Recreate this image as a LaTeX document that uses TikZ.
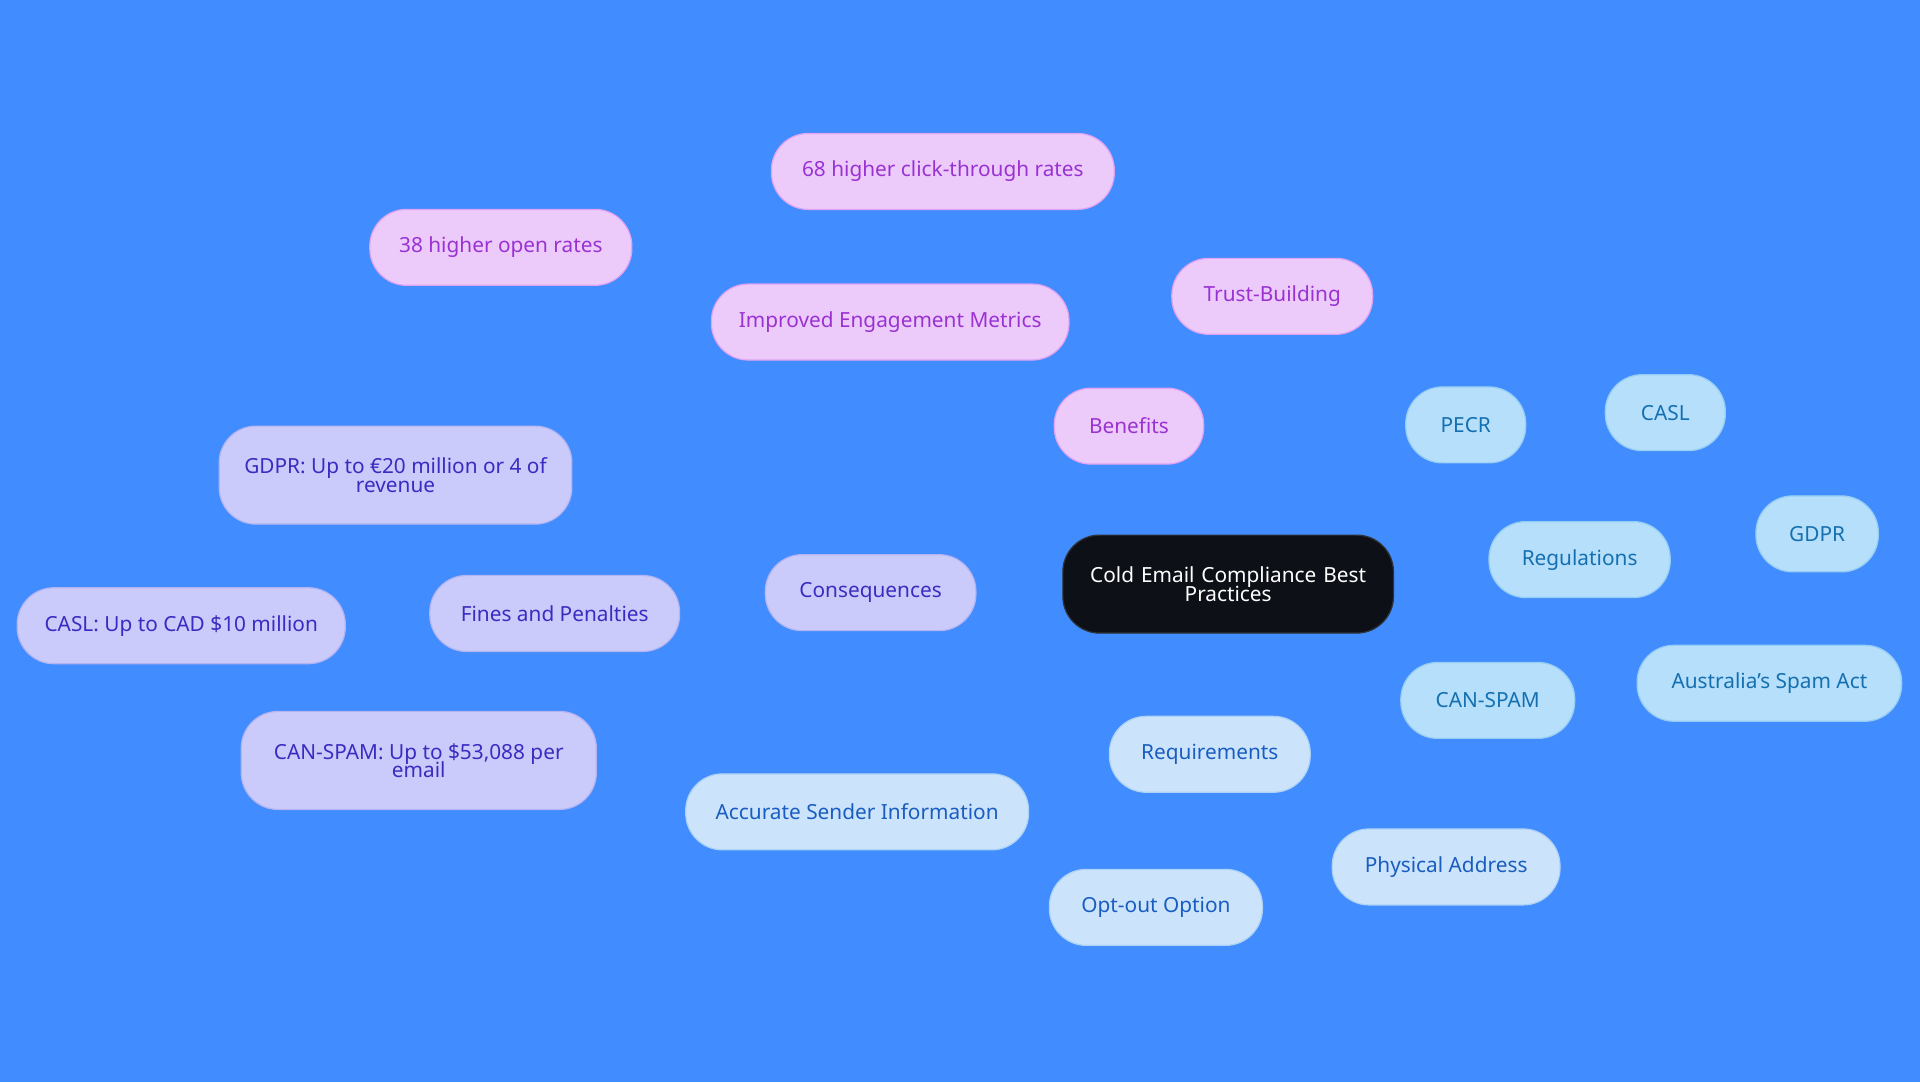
\documentclass[tikz,border=0pt]{standalone}
\usepackage{fontspec}
\setmainfont{Noto Sans}
\usetikzlibrary{backgrounds}
\definecolor{bg}{HTML}{418DFF}
\definecolor{cen}{HTML}{0D1117}
\definecolor{pf}{HTML}{ECCBFB}\definecolor{ps}{HTML}{DFA3F2}\definecolor{pt}{HTML}{9A32D2}
\definecolor{lf}{HTML}{CBCBFB}\definecolor{ls}{HTML}{B4B4F2}\definecolor{lt}{HTML}{3A2CC0}
\definecolor{rf}{HTML}{B5DFFB}\definecolor{rs}{HTML}{96CDF2}\definecolor{rt}{HTML}{1670B0}
\definecolor{qf}{HTML}{CCE4FB}\definecolor{qs}{HTML}{ADD2F5}\definecolor{qt}{HTML}{1A5DC0}
\tikzset{
 base/.style={rounded corners=30pt,minimum height=62pt,align=center,font=\fontsize{17}{18}\selectfont,line width=1pt,inner sep=4pt},
 pn/.style={base,fill=pf,draw=ps,text=pt},
 ln/.style={base,fill=lf,draw=ls,text=lt},
 rn/.style={base,fill=rf,draw=rs,text=rt},
 qn/.style={base,fill=qf,draw=qs,text=qt},
 pe/.style={draw=ps,line width=2pt},
 le/.style={draw=ls,line width=2pt},
 re/.style={draw=rs,line width=2pt},
 qe/.style={draw=qs,line width=2pt},
}
\begin{document}
\begin{tikzpicture}[x=1pt,y=-1pt]
\fill[bg] (0,0) rectangle (1568,884);
\node[base,fill=cen,draw=cen!70!gray,text=white,minimum width=270pt,minimum height=80pt,text width=240pt] (c) at (1003,477) {Cold Email Compliance Best\\[-3pt]Practices};
\node[pn,minimum width=122pt] (b) at (922,348) {Benefits};
\node[pn,minimum width=292pt] (iem) at (727,263) {Improved Engagement Metrics};
\node[pn,minimum width=280pt] (ctr) at (770,140) {68 higher click-through rates};
\node[pn,minimum width=214pt] (opr) at (409,202) {38 higher open rates};
\node[pn,minimum width=164pt] (tb) at (1039,242) {Trust-Building};
\node[ln,minimum width=172pt] (cq) at (711,484) {Consequences};
\node[ln,minimum width=204pt] (fp) at (453,501) {Fines and Penalties};
\node[ln,minimum width=288pt,minimum height=80pt] (fg) at (323,388) {GDPR: Up to €20 million or 4 of\\[-3pt]revenue};
\node[ln,minimum width=268pt] (fc) at (148,511) {CASL: Up to CAD \$10 million};
\node[ln,minimum width=290pt,minimum height=80pt] (fs) at (342,621) {CAN-SPAM: Up to \$53,088 per\\[-3pt]email};
\node[rn,minimum width=148pt] (rg) at (1290,457) {Regulations};
\node[rn,minimum width=98pt] (pecr) at (1197,347) {PECR};
\node[rn,minimum width=98pt] (casl) at (1360,337) {CASL};
\node[rn,minimum width=100pt] (gdpr) at (1484,436) {GDPR};
\node[rn,minimum width=216pt] (aus) at (1445,558) {Australia's Spam Act};
\node[rn,minimum width=142pt] (cs) at (1215,572) {CAN-SPAM};
\node[qn,minimum width=164pt] (rq) at (988,616) {Requirements};
\node[qn,minimum width=280pt] (acc) at (700,663) {Accurate Sender Information};
\node[qn,minimum width=174pt] (opt) at (944,741) {Opt-out Option};
\node[qn,minimum width=186pt] (phy) at (1181,708) {Physical Address};
\begin{scope}[on background layer]
\fill[bg] (0,0) rectangle (1568,884);
\draw[pe] (c) -- (b); \draw[pe] (b) -- (iem); \draw[pe] (b) -- (tb);
\draw[pe] (iem) -- (ctr); \draw[pe] (iem) -- (opr);
\draw[le] (c) -- (cq); \draw[le] (cq) -- (fp);
\draw[le] (fp) -- (fg); \draw[le] (fp) -- (fc); \draw[le] (fp) -- (fs);
\draw[re] (c) -- (rg);
\foreach \n in {pecr,casl,gdpr,aus,cs} \draw[re] (rg) -- (\n);
\draw[qe] (c) -- (rq);
\foreach \n in {acc,opt,phy} \draw[qe] (rq) -- (\n);
\end{scope}
\end{tikzpicture}
\end{document}
